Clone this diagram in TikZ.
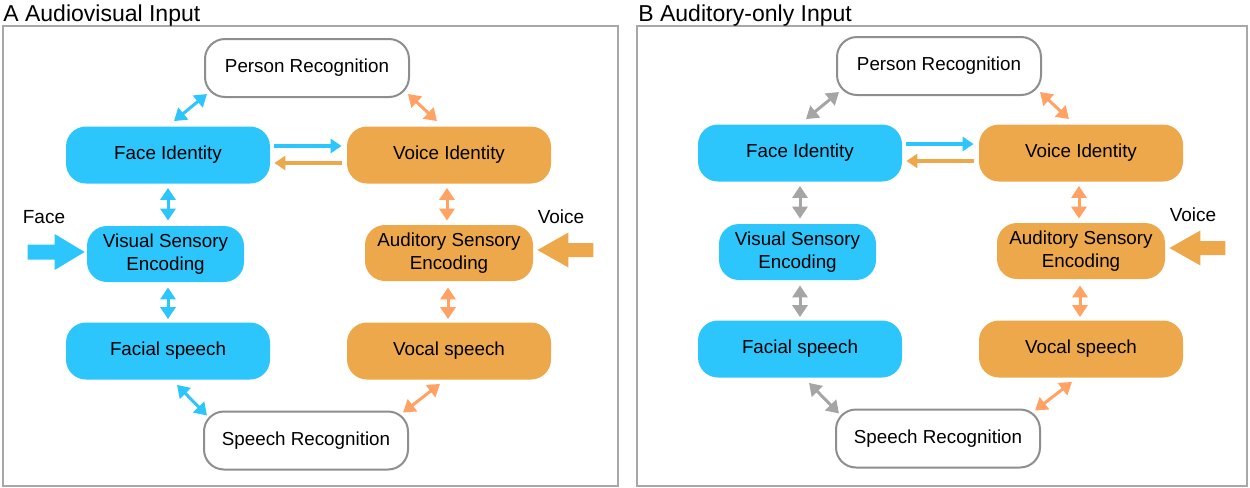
\documentclass[tikz,border=0pt]{standalone}
\usepackage{fontspec}
\setmainfont{Liberation Sans}
\usetikzlibrary{arrows.meta}
\definecolor{cblue}{HTML}{2CC6FC}
\definecolor{corange}{HTML}{EDA84B}
\definecolor{csalmon}{HTML}{FFA264}
\definecolor{cgray}{HTML}{A5A5A5}
\definecolor{cborder}{HTML}{8E8E8E}
\definecolor{cframe}{HTML}{A8A8A8}
\newcommand\boxfont{\fontsize{9.4}{11.5}\selectfont}
\newcommand\panelbody{%
  \node[person] (pr) at (307,68) {Person Recognition};
  \node[bluebox] (fi) at (168,155) {Face Identity};
  \node[orangebox] (vi) at (449,155) {Voice Identity};
  \node[bluebox,minimum width=78.5pt,minimum height=28pt] (vse) at (165.5,254) {Visual Sensory\\Encoding};
  \node[orangebox,minimum width=84pt,minimum height=28pt] (ase) at (449,253) {Auditory Sensory\\Encoding};
  \node[bluebox] (fs) at (168,351) {Facial speech};
  \node[orangebox] (vs) at (449,351) {Vocal speech};
  \node[person] (sr) at (306,440.5) {Speech Recognition};
  % links
  \draw[dbl,vislink] ([shift={(3,-4)}]pr.south west) -- ([shift={(6,-5)}]fi.north);
  \draw[dbl,audlink] ([shift={(-2,-4)}]pr.south east) -- ([shift={(-12,-5)}]vi.north);
  \draw[one,cblue] ([shift={(4,-9)}]fi.east) -- ([shift={(-5,-9)}]vi.west);
  \draw[one,corange] ([shift={(-5,8)}]vi.west) -- ([shift={(4,8)}]fi.east);
  \draw[dbl,vislink] ([shift={(0,4)}]fi.south) -- ([shift={(2.5,-5)}]vse.north);
  \draw[dbl,vislink] ([shift={(2.5,5)}]vse.south) -- ([shift={(0,-3)}]fs.north);
  \draw[dbl,audlink] ([shift={(-2,4)}]vi.south) -- ([shift={(-2,-4)}]ase.north);
  \draw[dbl,audlink] ([shift={(-1,6)}]ase.south) -- ([shift={(-1,-3)}]vs.north);
  \draw[dbl,vislink] ([shift={(9,5)}]fs.south) -- ([shift={(4,5)}]sr.north west);
  \draw[dbl,audlink] ([shift={(-9,4)}]vs.south) -- ([shift={(-6,2)}]sr.north east);
  % voice input
  \node[lbl] (voicelbl) at (561,217) {Voice};
  \coordinate (vtip) at ([shift={(4,-3)}]ase.east);
  \fill[corange] (vtip) -- ++(31,-17.5) -- ++(0,10.5) -- ++(25,0) -- ++(0,14)
     -- ++(-25,0) -- ++(0,10.5) -- cycle;
}
\begin{document}
\begin{tikzpicture}[x=0.5pt,y=-0.5pt,
  base/.style={rounded corners=10pt,inner sep=0pt,align=center,font=\boxfont,
    minimum width=102pt,minimum height=28.5pt},
  person/.style={base,draw=cborder,line width=1pt,fill=white,rounded corners=10pt,minimum height=29pt},
  bluebox/.style={base,fill=cblue},
  orangebox/.style={base,fill=corange},
  dbl/.style={{Triangle[length=6pt,width=7.5pt]}-{Triangle[length=6pt,width=7.5pt]},line width=1.5pt},
  one/.style={-{Triangle[length=5.5pt,width=7pt]},line width=1.75pt},
  lbl/.style={font=\fontsize{9.5}{11}\selectfont,inner sep=0pt},
  title/.style={font=\fontsize{11.5}{13}\selectfont,inner sep=0pt,anchor=base west},
  frame/.style={draw=cframe,line width=1pt}]
\useasboundingbox (0,0) rectangle (1250,488);
\draw[frame] (3,26) rectangle (618,486);
\draw[frame] (637,26) rectangle (1247,486);
\node[title] (ta) at (3,21) {A Audiovisual Input};
\node[title] (tb) at (638,21) {B Auditory-only Input};
\begin{scope}[name prefix=a-, vislink/.style={cblue}, audlink/.style={csalmon}]
  \panelbody
  \node[lbl] (facelbl) at (44,217) {Face};
  \coordinate (ftip) at ([shift={(-2,-2)}]vse.west);
  \fill[cblue] (ftip) -- ++(-30,-18) -- ++(0,10.5) -- ++(-27,0) -- ++(0,15)
     -- ++(27,0) -- ++(0,10.5) -- cycle;
\end{scope}
\begin{scope}[shift={(632,-2)}, name prefix=b-, vislink/.style={cgray}, audlink/.style={csalmon}]
  \panelbody
\end{scope}
\end{tikzpicture}
\end{document}
